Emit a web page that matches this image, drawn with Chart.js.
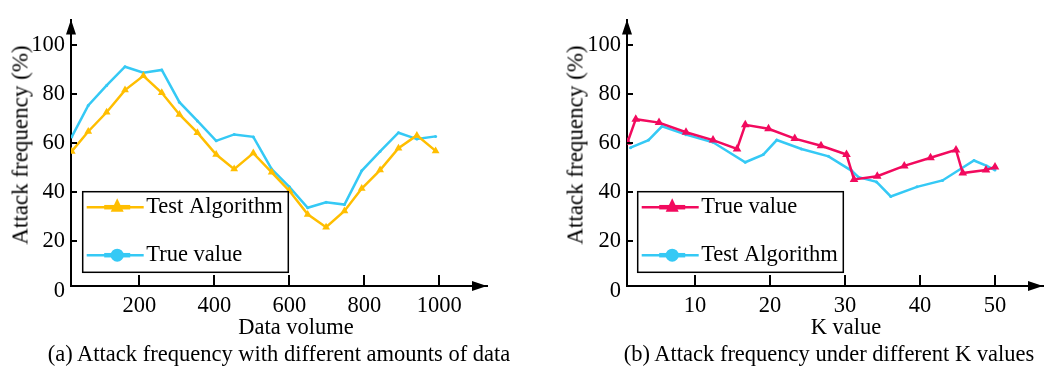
<!DOCTYPE html>
<html>
<head>
<meta charset="utf-8">
<script src="https://cdn.jsdelivr.net/npm/chart.js@4.4.0/dist/chart.umd.min.js"></script>
<style>
    body { margin: 0; background: #fff; width: 1051px; height: 371px; overflow: hidden; position: relative; font-family: "Liberation Serif", "Times New Roman", serif; }
    .panel { position: absolute; top: 0; height: 325px; }
    #panelA { left: 0; width: 525px; }
    #panelB { left: 555px; width: 496px; }
    .lbl { position: absolute; font-size: 22.5px; line-height: 1; white-space: nowrap; color: #000; transform: translate(-50%, -50%); }
    .ytitle { font-size: 23px; transform: translate(-50%, -50%) rotate(-90deg); }
</style>
</head>
<body>
<div class="panel" id="panelA"><canvas id="chartA" width="525" height="325"></canvas></div>
<div class="panel" id="panelB"><canvas id="chartB" width="496" height="325"></canvas></div>

<div class="lbl ytitle" style="left:20px; top:145px;">Attack frequency (%)</div>
<div class="lbl ytitle" style="left:575px; top:145px;">Attack frequency (%)</div>
<div class="lbl" style="left:296px; top:327px;">Data volume</div>
<div class="lbl" style="left:846px; top:327px;">K value</div>
<div class="lbl" style="left:279px; top:354px;">(a) Attack frequency with different amounts of data</div>
<div class="lbl" style="left:829px; top:354px;">(b) Attack frequency under different K values</div>

<script>
// ---------------------------------------------------------------------------
// DATA
// ---------------------------------------------------------------------------

// (a) attack frequency vs data volume
const dataVolume = [20, 64, 113, 162, 211, 260, 307, 355, 405, 453, 504, 553, 600, 649, 698, 747, 793, 842, 891, 940, 990];
const testAlgorithmA = [56.6, 64.7, 72.5, 81.5, 87.3, 80.4, 71.6, 64.2, 55.3, 49.4, 55.9, 48.1, 40.6, 31.0, 25.8, 32.4, 41.5, 49.0, 57.9, 63.1, 56.8];
const trueValueA = [62.5, 75.3, 83.4, 91.0, 88.6, 89.7, 76.6, 69.0, 60.9, 63.5, 62.5, 49.4, 42.2, 33.7, 35.9, 35.0, 48.7, 56.6, 64.2, 61.6, 62.7];
const volumeTicks = [200, 400, 600, 800, 1000];

// (b) attack frequency vs K value
const kTrue = [1, 2.1, 5.2, 8.8, 12.4, 15.6, 16.7, 19.8, 23.3, 26.8, 30.2, 31.2, 34.3, 37.9, 41.4, 44.8, 45.7, 48.8, 50];
const trueValueB = [60.3, 69.7, 68.3, 64.4, 61.2, 57.6, 67.4, 65.8, 61.8, 58.9, 55.3, 45.2, 46.5, 50.7, 54.0, 57.2, 47.8, 49.0, 50.3];
const kTest = [1.4, 3.8, 5.6, 8.8, 12.4, 16.7, 19.1, 20.9, 24.2, 27.8, 30.9, 31.8, 34.2, 36.1, 39.6, 43.0, 47.2, 48.9, 50];
const testAlgorithmB = [58.1, 61.2, 66.8, 63.4, 60.3, 52.2, 55.3, 61.2, 57.6, 54.6, 48.7, 46.1, 44.2, 38.3, 42.2, 44.8, 52.9, 50.7, 49.0];
const kTicks = [10, 20, 30, 40, 50];

const freqTicks = [0, 20, 40, 60, 80, 100];

// ---------------------------------------------------------------------------
// STYLE
// ---------------------------------------------------------------------------

const FONT = { family: '"Liberation Serif", "Times New Roman", serif', size: 22.5 };
const YELLOW = '#FFBE00';
const BLUE = '#35C9F5';
const RED = '#F20A5E';
const AXIS_BOTTOM = 286;

function toPoints(xs, ys) {
    return xs.map((x, i) => ({ x: x, y: ys[i] }));
}

// inward tick marks and arrow heads on both axes
const axisDecor = {
    id: 'axisDecor',
    afterDraw(chart) {
        const { ctx, chartArea: a, scales: { x, y } } = chart;
        ctx.save();
        ctx.strokeStyle = '#000';
        ctx.fillStyle = '#000';
        ctx.lineWidth = 2;
        ctx.beginPath();
        y.ticks.forEach(t => {
            if (t.value <= 0) return;
            const py = Math.round(y.getPixelForValue(t.value));
            ctx.moveTo(a.left, py);
            ctx.lineTo(a.left + 6, py);
        });
        x.ticks.forEach(t => {
            const px = Math.round(x.getPixelForValue(t.value));
            ctx.moveTo(px, a.bottom);
            ctx.lineTo(px, a.bottom - 11);
        });
        ctx.stroke();

        // arrow heads
        ctx.beginPath();
        ctx.moveTo(a.left, a.top);
        ctx.lineTo(a.left - 5, a.top + 15);
        ctx.lineTo(a.left + 5, a.top + 15);
        ctx.closePath();
        ctx.moveTo(a.right, a.bottom);
        ctx.lineTo(a.right - 15, a.bottom - 5);
        ctx.lineTo(a.right - 15, a.bottom + 5);
        ctx.closePath();
        ctx.fill();
        ctx.restore();
    }
};

// framed legend sitting inside the plot
const boxLegend = {
    id: 'boxLegend',
    afterDatasetsDraw(chart, args, opts) {
        const ctx = chart.ctx;
        ctx.save();
        ctx.fillStyle = '#fff';
        ctx.fillRect(opts.left, opts.top, opts.width, opts.height);
        ctx.strokeStyle = '#000';
        ctx.lineWidth = 1.5;
        ctx.strokeRect(opts.left, opts.top, opts.width, opts.height);

        chart.data.datasets.forEach((ds, i) => {
            const cy = opts.top + 15.5 + i * 48;
            const x0 = opts.left + 4;
            const x1 = opts.left + 61;
            const mx = opts.left + 34.5;
            ctx.strokeStyle = ds.borderColor;
            ctx.lineWidth = 2.5;
            ctx.beginPath();
            ctx.moveTo(x0, cy);
            ctx.lineTo(x1, cy);
            ctx.stroke();
            ctx.lineWidth = 4.5;
            ctx.beginPath();
            ctx.moveTo(mx - 13, cy);
            ctx.lineTo(mx + 13, cy);
            ctx.stroke();

            ctx.fillStyle = ds.borderColor;
            ctx.beginPath();
            if (ds.pointStyle === 'triangle') {
                ctx.moveTo(mx, cy - 9);
                ctx.lineTo(mx + 6.5, cy + 4.5);
                ctx.lineTo(mx - 6.5, cy + 4.5);
                ctx.closePath();
            } else {
                ctx.arc(mx, cy, 6.5, 0, Math.PI * 2);
            }
            ctx.fill();

            ctx.fillStyle = '#000';
            ctx.font = FONT.size + 'px ' + FONT.family;
            ctx.textBaseline = 'middle';
            ctx.fillText(ds.label, opts.left + 63.5, cy);
        });
        ctx.restore();
    }
};

function buildOptions(xMin, xMax, xTicks, padRight, yWidth, canvasH) {
    return {
        responsive: false,
        animation: false,
        layout: { padding: { top: 10, right: padRight, bottom: 0, left: 0 } },
        plugins: {
            legend: { display: false },
            tooltip: { enabled: false },
            boxLegend: { left: 82.7, top: 191.7, width: 205.6, height: 80.6 }
        },
        scales: {
            x: {
                type: 'linear',
                min: xMin,
                max: xMax,
                afterBuildTicks: s => { s.ticks = xTicks.map(v => ({ value: v })); },
                afterFit: s => { s.height = canvasH - AXIS_BOTTOM; },
                grid: { display: false, drawTicks: false },
                border: { display: true, color: '#000', width: 2 },
                ticks: { color: '#000', font: FONT, padding: 7, maxRotation: 0, autoSkip: false,
                         callback: v => String(v) }
            },
            y: {
                type: 'linear',
                min: 1.9,
                max: 110.2,
                afterBuildTicks: s => { s.ticks = freqTicks.map(v => ({ value: v })); },
                afterFit: s => { s.width = yWidth; },
                grid: { display: false, drawTicks: false },
                border: { display: true, color: '#000', width: 2 },
                ticks: { color: '#000', font: FONT, padding: 6, callback: v => String(v) }
            }
        }
    };
}

// ---------------------------------------------------------------------------
// CHART (a)
// ---------------------------------------------------------------------------

new Chart(document.getElementById('chartA'), {
    type: 'line',
    data: {
        datasets: [{
            label: 'Test Algorithm',
            data: toPoints(dataVolume, testAlgorithmA),
            borderColor: YELLOW,
            backgroundColor: YELLOW,
            borderWidth: 2.5,
            pointStyle: 'triangle',
            pointRadius: 4.5,
            pointBorderWidth: 0,
            tension: 0
        }, {
            label: 'True value',
            data: toPoints(dataVolume, trueValueA),
            borderColor: BLUE,
            backgroundColor: BLUE,
            borderWidth: 2.5,
            pointStyle: 'circle',
            pointRadius: 1.5,
            pointBorderWidth: 0,
            tension: 0
        }]
    },
    options: buildOptions(18, 1127, volumeTicks, 38, 71, 325),
    plugins: [boxLegend, axisDecor]
});

// ---------------------------------------------------------------------------
// CHART (b)
// ---------------------------------------------------------------------------

new Chart(document.getElementById('chartB'), {
    type: 'line',
    data: {
        datasets: [{
            label: 'True value',
            data: toPoints(kTrue, trueValueB),
            borderColor: RED,
            backgroundColor: RED,
            borderWidth: 2.5,
            pointStyle: 'triangle',
            pointRadius: 5,
            pointBorderWidth: 0,
            tension: 0
        }, {
            label: 'Test Algorithm',
            data: toPoints(kTest, testAlgorithmB),
            borderColor: BLUE,
            backgroundColor: BLUE,
            borderWidth: 2.5,
            pointStyle: 'circle',
            pointRadius: 1.5,
            pointBorderWidth: 0,
            tension: 0
        }]
    },
    options: buildOptions(0.93, 56.4, kTicks, 8, 72, 325),
    plugins: [boxLegend, axisDecor]
});
</script>
</body>
</html>
